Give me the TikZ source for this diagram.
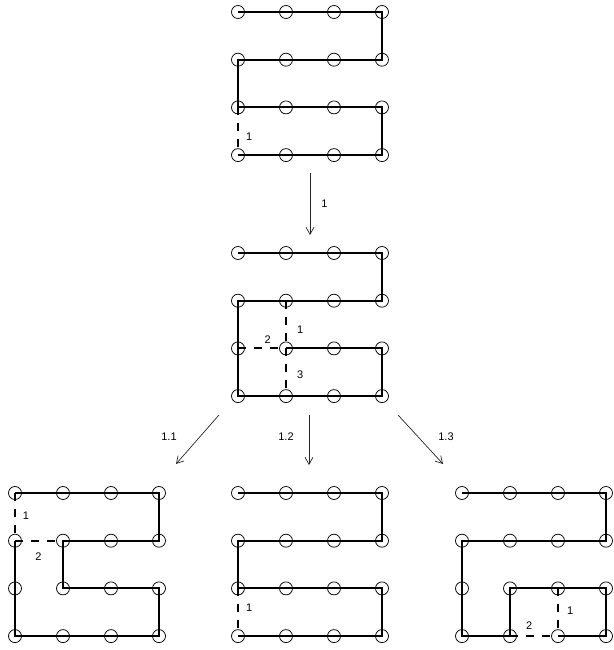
\documentclass[tikz,border=0pt]{standalone}
\usepackage{fontspec}
\setmainfont{Liberation Sans}
\usetikzlibrary{arrows.meta}
\tikzset{
 dot/.style={circle,draw,line width=0.75pt,minimum size=13pt,inner sep=0pt},
 route/.style={line width=2pt,line join=miter},
 dashroute/.style={line width=2pt,dash pattern=on 8pt off 8pt},
 lab/.style={font=\fontsize{11}{13}\selectfont,inner sep=0pt},
 move/.style={line width=0.7pt,draw=black!85,-{Straight Barb[length=7pt,width=8pt,line width=0.7pt]}},
}
\newcommand\mkgrid[3]{\foreach \i in {0,1,2,3}{\foreach \j in {0,1,2,3}{\node[dot] (#1\i\j) at ({#2+48*\i},{#3+47.7*\j}) {};}}}
\begin{document}
\begin{tikzpicture}[x=1pt,y=-1pt]
\useasboundingbox (0,0) rectangle (613,650);
% grids
\mkgrid{T}{238}{12}
\mkgrid{M}{238}{253}
\mkgrid{L}{15}{493}
\mkgrid{C}{238}{493}
\mkgrid{R}{462}{493}
% top grid
\draw[route] (T00.center) -- (T30.center) -- (T31.center) -- (T01.center) -- (T02.center) -- (T32.center) -- (T33.center) -- (T03.center);
\draw[dashroute] (T02.center) -- node[lab,anchor=west,pos=0.62,xshift=7pt]{1} (T03.center);
% middle grid
\draw[route] (M00.center) -- (M30.center) -- (M31.center) -- (M01.center) -- (M03.center) -- (M33.center) -- (M32.center) -- (M12.center);
\draw[dashroute] (M11.center) -- node[lab,anchor=west,pos=0.6,xshift=10pt]{1} (M12.center);
\draw[dashroute] (M02.center) -- node[lab,anchor=south,pos=0.62,yshift=4pt]{2} (M12.center);
\draw[dashroute] (M12.center) -- node[lab,anchor=west,pos=0.55,xshift=10pt]{3} (M13.center);
% bottom left
\draw[route] (L00.center) -- (L30.center) -- (L31.center) -- (L11.center) -- (L12.center) -- (L32.center) -- (L33.center) -- (L03.center) -- (L01.center);
\draw[dashroute] (L00.center) -- node[lab,anchor=west,pos=0.47,xshift=7pt]{1} (L01.center);
\draw[dashroute] (L01.center) -- node[lab,anchor=north,pos=0.49,yshift=-11pt]{2} (L11.center);
% bottom middle
\draw[route] (C00.center) -- (C30.center) -- (C31.center) -- (C01.center) -- (C02.center) -- (C32.center) -- (C33.center) -- (C03.center);
\draw[dashroute] (C02.center) -- node[lab,anchor=west,pos=0.4,xshift=7pt]{1} (C03.center);
% bottom right
\draw[route] (R00.center) -- (R30.center) -- (R31.center) -- (R01.center) -- (R03.center) -- (R13.center) -- (R12.center) -- (R32.center) -- (R33.center) -- (R23.center);
\draw[dashroute] (R22.center) -- node[lab,anchor=west,pos=0.47,xshift=8pt]{1} (R23.center);
\draw[dashroute] (R13.center) -- node[lab,anchor=south,pos=0.4,yshift=6pt]{2} (R23.center);
% transitions
\coordinate (a0) at (310,173); \coordinate (a1) at (310,235);
\coordinate (b0) at (219,415); \coordinate (b1) at (176,464);
\coordinate (c0) at (309,415); \coordinate (c1) at (309,465);
\coordinate (d0) at (398,415); \coordinate (d1) at (443,464);
\draw[move] (a0) -- node[lab,anchor=west,xshift=11pt]{1} (a1);
\draw[move] (b0) -- (b1);
\draw[move] (c0) -- (c1);
\draw[move] (d0) -- (d1);
\node[lab] (t11) at (169,437) {1.1};
\node[lab] (t12) at (286,437) {1.2};
\node[lab] (t13) at (446,437) {1.3};
\end{tikzpicture}
\end{document}
